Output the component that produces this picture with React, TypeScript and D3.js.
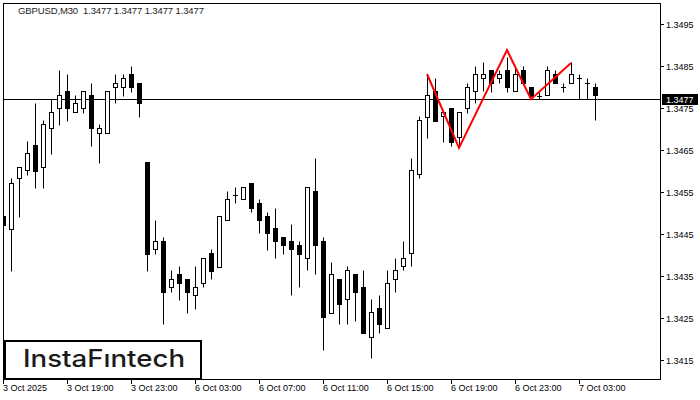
import React from "react";
import * as d3 from "d3";

const OPEN = [
  1.34493, 1.34462, 1.34583, 1.34602, 1.34662, 1.3461, 1.34702, 1.3475, 1.3479, 1.3474,
  1.3475, 1.34781, 1.3469, 1.3469, 1.348, 1.348, 1.34831, 1.3481, 1.34621, 1.34414,
  1.34433, 1.34324, 1.34355, 1.34343, 1.34305, 1.34333, 1.34405, 1.34371, 1.34483, 1.34543,
  1.34533, 1.34571, 1.34524, 1.34493, 1.34464, 1.34443, 1.34433, 1.34424, 1.34393, 1.34552,
  1.34433, 1.34262, 1.34343, 1.34295, 1.34355, 1.34324, 1.34205, 1.34274, 1.34226, 1.34343,
  1.34374, 1.34405, 1.34593, 1.34729, 1.3479, 1.34731, 1.3475, 1.34681, 1.3475, 1.3479,
  1.34821, 1.3484, 1.34821, 1.3484, 1.3479, 1.3484, 1.348, 1.34779, 1.34781, 1.34831,
  1.348, 1.3481, 1.34821, 1.3481, 1.348,
];
const HIGH = [
  1.34512, 1.34583, 1.3461, 1.34671, 1.34762, 1.34721, 1.34771, 1.3484, 1.34831, 1.34781,
  1.3479, 1.3481, 1.34712, 1.3479, 1.34831, 1.34831, 1.3485, 1.3481, 1.34621, 1.34483,
  1.34443, 1.34364, 1.34374, 1.34343, 1.34374, 1.34393, 1.34414, 1.34493, 1.34552, 1.34562,
  1.34562, 1.34571, 1.34533, 1.34502, 1.34512, 1.34443, 1.34474, 1.34433, 1.34562, 1.34631,
  1.34443, 1.34383, 1.34343, 1.34374, 1.34355, 1.34364, 1.34295, 1.34305, 1.34364, 1.34393,
  1.34433, 1.34631, 1.34731, 1.34831, 1.34821, 1.3474, 1.3475, 1.3474, 1.3481, 1.3485,
  1.3486, 1.3484, 1.3484, 1.34871, 1.3485, 1.3485, 1.348, 1.34788, 1.3485, 1.3484,
  1.3481, 1.3486, 1.34831, 1.34821, 1.3481,
];
const LOW = [
  1.34431, 1.34362, 1.3449, 1.3459, 1.3456, 1.3456, 1.3464, 1.3471, 1.34719, 1.3474,
  1.34738, 1.3466, 1.34619, 1.3469, 1.34762, 1.34779, 1.34788, 1.34729, 1.34362, 1.34402,
  1.34236, 1.34312, 1.34293, 1.34262, 1.34271, 1.34324, 1.34343, 1.34371, 1.34483, 1.34524,
  1.34533, 1.34502, 1.34452, 1.34412, 1.34393, 1.34402, 1.34305, 1.34324, 1.34364, 1.34355,
  1.34174, 1.34262, 1.34236, 1.34236, 1.34243, 1.34214, 1.34155, 1.34214, 1.34226, 1.34312,
  1.34364, 1.34374, 1.34583, 1.34679, 1.34719, 1.34669, 1.3466, 1.3466, 1.34738, 1.34762,
  1.3479, 1.34788, 1.3481, 1.34788, 1.3479, 1.3481, 1.34779, 1.34771, 1.34781, 1.3481,
  1.34788, 1.3481, 1.34771, 1.34771, 1.34721,
];
const CLOSE = [
  1.34471, 1.34571, 1.3461, 1.34643, 1.346, 1.34712, 1.3474, 1.34781, 1.3475, 1.34762,
  1.3479, 1.34702, 1.34702, 1.3479, 1.3481, 1.34821, 1.348, 1.34762, 1.34402, 1.34433,
  1.34312, 1.34343, 1.34333, 1.34312, 1.34324, 1.34393, 1.34362, 1.34493, 1.34533, 1.34543,
  1.34562, 1.34512, 1.34483, 1.34452, 1.34433, 1.34424, 1.34414, 1.34402, 1.34562, 1.34424,
  1.34252, 1.34355, 1.34283, 1.34364, 1.34312, 1.34214, 1.34264, 1.34236, 1.34333, 1.34364,
  1.34393, 1.34602, 1.34721, 1.34781, 1.34719, 1.3474, 1.34669, 1.3474, 1.348, 1.34831,
  1.34831, 1.3481, 1.34831, 1.348, 1.34831, 1.3481, 1.34779, 1.34779, 1.3484, 1.3481,
  1.348, 1.34831, 1.34821, 1.3481, 1.34781,
];

const TIME_TICK_INDEX = [0, 8, 16, 24, 32, 40, 48, 56, 64, 72];
const TIME_TICK_LABELS = [
  "3 Oct 2025", "3 Oct 19:00", "3 Oct 23:00", "6 Oct 03:00", "6 Oct 07:00",
  "6 Oct 11:00", "6 Oct 15:00", "6 Oct 19:00", "6 Oct 23:00", "7 Oct 03:00",
];
const PRICE_TICKS = [1.3495, 1.3485, 1.3475, 1.3465, 1.3455, 1.3445, 1.3435, 1.3425, 1.3415];
const PATTERN_INDEX = [53, 57, 63, 66, 71];
const PATTERN_PRICE = [1.34831, 1.34655, 1.34888, 1.34771, 1.34857];
const CURRENT_PRICE = 1.3477;
const TITLE = "GBPUSD,M30  1.3477 1.3477 1.3477 1.3477";

const W = 700;
const H = 400;
const L = 3;
const R = 660;
const T = 3;
const B = 379;
const FONT = "'Liberation Sans', Arial, sans-serif";

export default function App() {
  const x = d3.scaleLinear().domain([0, 82.125]).range([L, R]);
  const y = d3.scaleLinear().domain([1.34105, 1.35]).range([B, T]);
  const py = (p: number) => Math.round(y(p)) + 0.5;
  const cy = Math.floor(y(CURRENT_PRICE)) + 0.5;

  const line = d3
    .line<number>()
    .x((_, i) => x(PATTERN_INDEX[i]))
    .y((d) => y(d));

  return (
    <svg
      width={W}
      height={H}
      style={{ position: "absolute", left: 0, top: 0, background: "#fff" }}
      xmlns="http://www.w3.org/2000/svg"
    >
      <defs>
        <clipPath id="plot">
          <rect x={L} y={T} width={R - L} height={B - T} />
        </clipPath>
      </defs>
      <rect x={0} y={0} width={W} height={H} fill="#fff" />
      <text
        x={18}
        y={14}
        fontFamily={FONT}
        fontSize={9.5}
        fill="#222"
        textLength={186}
        lengthAdjust="spacing"
      >
        {TITLE.replace(/ /g, "\u00a0")}
      </text>

      <g clipPath="url(#plot)">
        <line x1={L} x2={R} y1={cy} y2={cy} stroke="#000" strokeWidth={1} />
        {OPEN.map((o, i) => {
          const c = CLOSE[i];
          const cx = Math.round(x(i));
          const top = py(Math.max(o, c));
          const bot = py(Math.min(o, c));
          const bull = c > o;
          const doji = Math.abs(top - bot) < 1;
          return (
            <g key={i}>
              <line x1={cx + 0.5} x2={cx + 0.5} y1={py(HIGH[i])} y2={py(LOW[i])} stroke="#000" strokeWidth={1} />
              {doji ? (
                <line x1={cx - 2} x2={cx + 3} y1={top} y2={top} stroke="#000" strokeWidth={1} />
              ) : (
                <rect
                  x={cx - 1.5}
                  y={top}
                  width={4}
                  height={bot - top}
                  fill={bull ? "#fff" : "#000"}
                  stroke="#000"
                  strokeWidth={1}
                />
              )}
            </g>
          );
        })}
        <path d={line(PATTERN_PRICE) || ""} fill="none" stroke="#ff0000" strokeWidth={2} strokeLinejoin="miter" />
      </g>

      <rect x={L + 0.5} y={T + 0.5} width={R - L} height={B - T} fill="none" stroke="#000" strokeWidth={1} />

      {PRICE_TICKS.map((p) => (
        <g key={p}>
          <line x1={R} x2={R + 4} y1={py(p)} y2={py(p)} stroke="#000" />
          <text x={666} y={py(p) + 3.3} fontFamily={FONT} fontSize={9} fill="#000">
            {p.toFixed(4)}
          </text>
        </g>
      ))}
      <rect x={662} y={cy - 5.5} width={36} height={11} fill="#000" />
      <text x={666} y={cy + 3.3} fontFamily={FONT} fontSize={9} fill="#fff">
        {CURRENT_PRICE.toFixed(4)}
      </text>

      {TIME_TICK_INDEX.map((t, k) => {
        const tx = Math.round(x(t)) + 0.5;
        return (
          <g key={t}>
            <line x1={tx} x2={tx} y1={B} y2={B + 5} stroke="#000" />
            <text x={tx - 0.5} y={391} fontFamily={FONT} fontSize={9} fill="#000">
              {TIME_TICK_LABELS[k]}
            </text>
          </g>
        );
      })}

      <rect x={5} y={341} width={196} height={38} fill="#fff" stroke="#000" strokeWidth={2} />
      <text
        x={23}
        y={367}
        fontFamily="Inter, 'Open Sans', sans-serif"
        fontWeight={500}
        fontSize={24}
        fill="#1a1a1a"
        textLength={162}
        lengthAdjust="spacingAndGlyphs"
      >
        InstaFıntech
      </text>
    </svg>
  );
}
